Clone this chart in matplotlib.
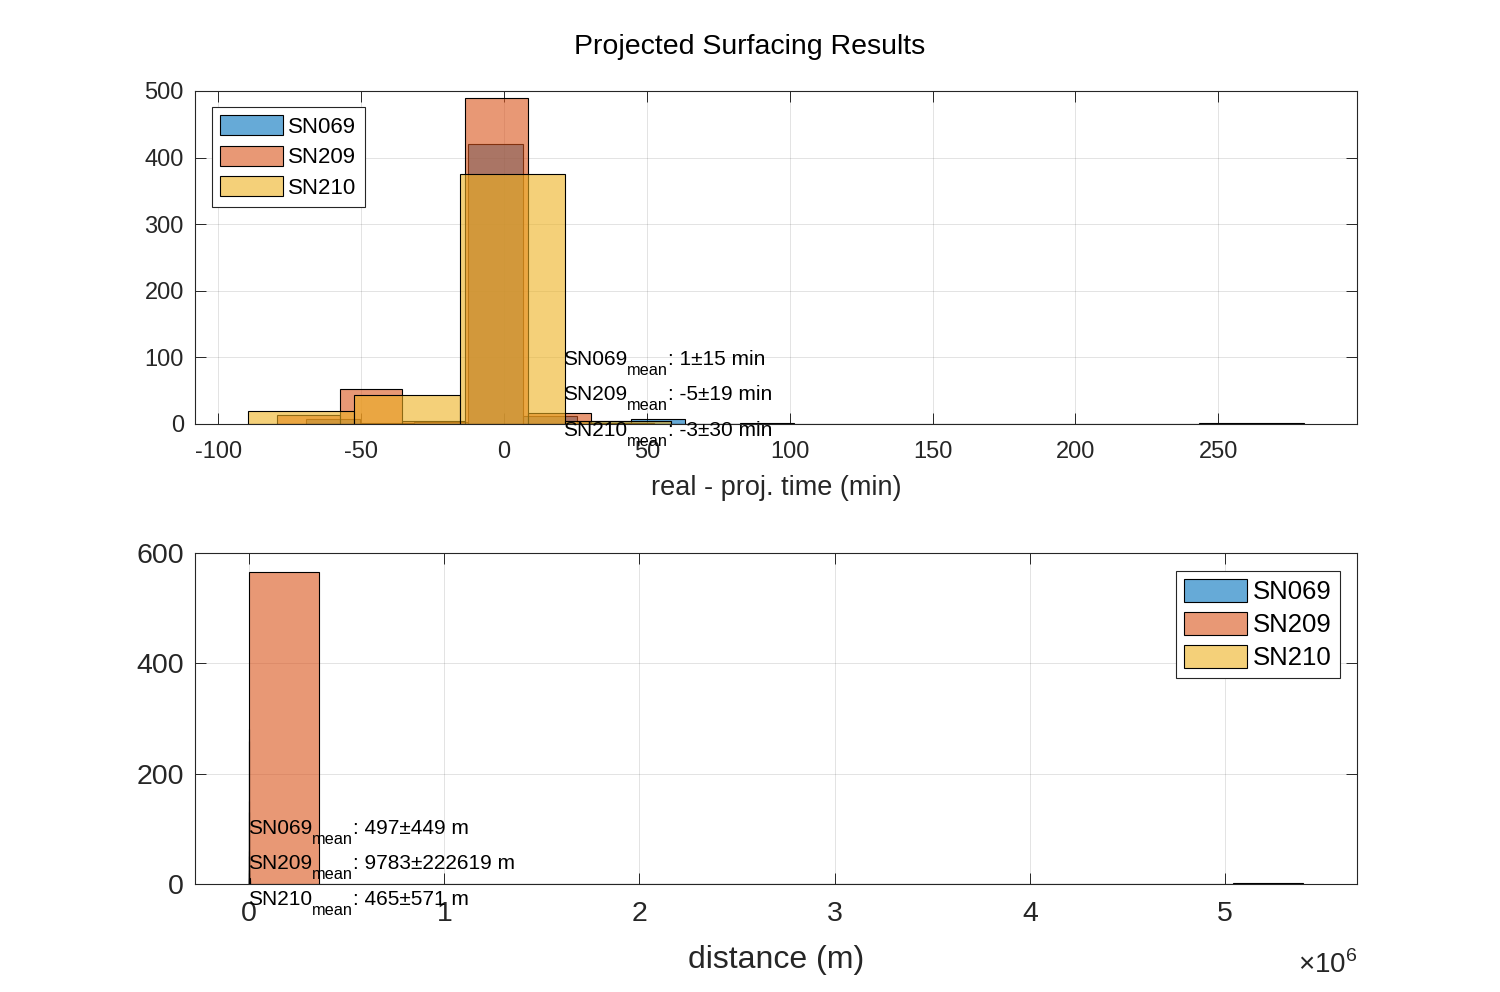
import matplotlib
matplotlib.use('Agg')
import matplotlib.pyplot as plt
import matplotlib.transforms as mtransforms
from matplotlib.ticker import FuncFormatter
import numpy as np

plt.rcParams['font.family'] = ['Liberation Sans', 'DejaVu Sans']
plt.rcParams['mathtext.fontset'] = 'custom'
plt.rcParams['mathtext.rm'] = 'Liberation Sans'
plt.rcParams['axes.unicode_minus'] = False

names = ['SN069', 'SN209', 'SN210']

# time difference histograms (min)
time_edges = {
  'SN069': [-69.5, -50.5, -31.5, -12.5, 6.5, 25.5, 44.5, 63.5, 82.5, 101.5],
  'SN209': [-79.6, -57.6, -35.6, -13.6, 8.4, 30.4, 52.4],
  'SN210': [-89.5, -52.5, -15.6, 21.4, 58.4, 95.3, 132.3, 169.3, 206.2, 243.2, 280.2],
}
time_counts = {
  'SN069': [8, 2, 3, 420, 12, 4, 8, 0, 1],
  'SN209': [14, 52, 5, 490, 17, 2],
  'SN210': [20, 43, 376, 5, 0, 0, 0, 0, 0, 1],
}
time_stats = {'SN069': '1±15', 'SN209': '-5±19', 'SN210': '-3±30'}

# distance histograms (m)
dist_edges = {
  'SN069': [0, 500, 1000, 1500, 2000, 2500, 3000],
  'SN209': [0, 0.36e6, 0.72e6, 1.08e6, 1.44e6, 1.80e6, 2.16e6, 2.52e6, 2.88e6,
            3.24e6, 3.60e6, 3.96e6, 4.32e6, 4.68e6, 5.04e6, 5.40e6],
  'SN210': [0, 500, 1000, 1500, 2000, 2500, 3000],
}
dist_counts = {
  'SN069': [260, 150, 60, 20, 8, 2],
  'SN209': [566, 0, 0, 0, 0, 0, 0, 0, 0, 0, 0, 0, 0, 0, 1],
  'SN210': [280, 130, 50, 25, 10, 5],
}
dist_stats = {'SN069': '497±449', 'SN209': '9783±222619', 'SN210': '465±571'}

colors = {'SN069': (0.0, 0.447, 0.741), 'SN209': (0.85, 0.325, 0.098), 'SN210': (0.929, 0.694, 0.125)}
axcol = (0.15, 0.15, 0.15)
DPI = 100


def draw_hist(ax, edges, counts):
  for n in names:
    e = np.array(edges[n], dtype=float)
    c = colors[n]
    ax.bar(e[:-1], counts[n], width=np.diff(e), align='edge',
           facecolor=(c[0], c[1], c[2], 0.6), edgecolor='k', linewidth=0.8, label=n)


def style_axes(ax, fs):
  ax.grid(True, color=(0.15, 0.15, 0.15), alpha=0.15, linewidth=0.6)
  ax.set_axisbelow(True)
  ax.tick_params(direction='in', length=8, width=0.7, top=True, right=True,
                 colors=axcol, labelsize=fs)
  ax.tick_params(axis='x', pad=12)
  ax.tick_params(axis='y', pad=8)
  for s in ax.spines.values():
    s.set_color(axcol)
    s.set_linewidth(0.8)


def mean_text(fig, ax, tr, x, y, name, rest, fs=15, sub_fs=11.7):
  # name, lowered "mean" subscript, then the rest of the string
  r = fig.canvas.get_renderer()
  t1 = ax.text(x, y, name, transform=tr, fontsize=fs, ha='left', va='baseline', clip_on=False)
  w1 = t1.get_window_extent(r).width * 72.0 / DPI
  t2 = ax.text(x, y, 'mean', fontsize=sub_fs, ha='left', va='baseline', clip_on=False,
               transform=mtransforms.offset_copy(tr, fig=fig, x=w1, y=-7.5, units='points'))
  w2 = t2.get_window_extent(r).width * 72.0 / DPI
  ax.text(x, y, ': ' + rest, fontsize=fs, ha='left', va='baseline', clip_on=False,
          transform=mtransforms.offset_copy(tr, fig=fig, x=w1 + w2, y=0, units='points'))


fig = plt.figure(figsize=(15, 9.92), dpi=DPI)
ax1 = fig.add_axes([0.13, 0.5726, 0.7747, 0.3357])
ax2 = fig.add_axes([0.13, 0.1089, 0.7747, 0.3337])

# top: time
draw_hist(ax1, time_edges, time_counts)
ax1.set_xlim(-108.2, 298.6)
ax1.set_ylim(0, 500)
ax1.set_xticks(np.arange(-100, 251, 50))
ax1.set_yticks(np.arange(0, 501, 100))
style_axes(ax1, 17)
ax1.set_xlabel('real - proj. time (min)', fontsize=19.5, color=axcol, labelpad=9)
leg1 = ax1.legend(loc='upper left', bbox_to_anchor=(0.0146, 0.952), fontsize=16,
                  handlelength=2.8, handleheight=1.0, handletextpad=0.25,
                  labelspacing=0.35, borderpad=0.38, borderaxespad=0,
                  fancybox=False, framealpha=1, edgecolor=axcol)
leg1.get_frame().set_linewidth(0.8)

tr1 = mtransforms.blended_transform_factory(ax1.transData, ax1.transAxes)
for n, yy in zip(names, [0.177, 0.072, -0.036]):
  mean_text(fig, ax1, tr1, 20.5, yy, n, time_stats[n] + ' min')

# bottom: distance
draw_hist(ax2, dist_edges, dist_counts)
ax2.set_xlim(-0.277e6, 5.676e6)
ax2.set_ylim(0, 600)
ax2.set_xticks(np.arange(0, 5.1e6, 1e6))
ax2.set_yticks(np.arange(0, 601, 200))
ax2.xaxis.set_major_formatter(FuncFormatter(lambda v, p: '%d' % round(v / 1e6)))
style_axes(ax2, 20.5)
ax2.set_xlabel('distance (m)', fontsize=23, color=axcol, labelpad=13)
ax2.text(1.0, -0.268, '×10$^{6}$', transform=ax2.transAxes, fontsize=20,
         ha='right', va='baseline', color=axcol)
leg2 = ax2.legend(loc='upper right', bbox_to_anchor=(0.985, 0.9456), fontsize=18.5,
                  handlelength=2.44, handleheight=1.0, handletextpad=0.25,
                  labelspacing=0.3, borderpad=0.3, borderaxespad=0,
                  fancybox=False, framealpha=1, edgecolor=axcol)
leg2.get_frame().set_linewidth(0.8)

tr2 = mtransforms.blended_transform_factory(ax2.transData, ax2.transAxes)
for n, yy in zip(names, [0.151, 0.045, -0.063]):
  mean_text(fig, ax2, tr2, -0.005e6, yy, n, dist_stats[n] + ' m')

fig.suptitle('Projected Surfacing Results', x=0.4997, y=0.9526, fontsize=20.5, va='center')

fig.savefig('out.png', dpi=DPI)
